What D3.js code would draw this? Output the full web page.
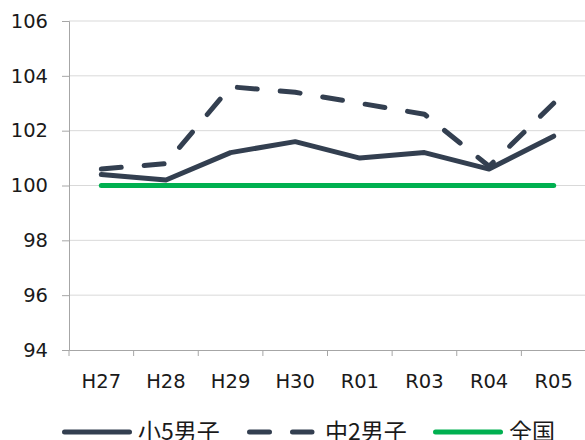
<!DOCTYPE html>
<html>
<head>
<meta charset="utf-8">
<script src="https://cdn.jsdelivr.net/npm/d3@7"></script>
<style>
  html, body { margin: 0; padding: 0; background: #fff; overflow: hidden; }
  svg { display: block; }
</style>
</head>
<body>
<svg id="chart" width="585" height="440"></svg>
<script>
const years = ['H27', 'H28', 'H29', 'H30', 'R01', 'R03', 'R04', 'R05'];
const shou5 = [100.4, 100.2, 101.2, 101.6, 101.0, 101.2, 100.6, 101.8];
const chu2 = [100.6, 100.8, 103.6, 103.4, 103.0, 102.6, 100.7, 103.0];
const zenkoku = [100, 100, 100, 100, 100, 100, 100, 100];
const yTicks = [94, 96, 98, 100, 102, 104, 106];

const series = [
  { name: '小5男子', values: shou5, color: '#333f50', dash: null },
  { name: '中2男子', values: chu2, color: '#333f50', dash: '20 23' },
  { name: '全国', values: zenkoku, color: '#00b050', dash: null }
];

const svg = d3.select('#chart');
const plotLeft = 69, plotRight = 586, plotTop = 21, plotBottom = 350;

const x = d3.scaleBand().domain(years).range([plotLeft, plotRight]);
const y = d3.scaleLinear().domain([94, 106]).range([plotBottom, plotTop]);

// gridlines
svg.append('g')
  .selectAll('line')
  .data(yTicks.filter(d => d !== 94))
  .enter()
  .append('line')
  .attr('x1', plotLeft).attr('x2', plotRight)
  .attr('y1', d => y(d)).attr('y2', d => y(d))
  .attr('stroke', '#d9d9d9')
  .attr('stroke-width', 1);

// y axis
const yAxis = svg.append('g')
  .attr('transform', `translate(${plotLeft},0)`)
  .call(d3.axisLeft(y).tickValues(yTicks).tickSize(7).tickPadding(14).tickFormat(d3.format('d')));
yAxis.select('.domain').attr('stroke', '#a6a6a6');
yAxis.selectAll('.tick line').attr('stroke', '#a6a6a6');
yAxis.selectAll('text')
  .attr('fill', '#1a1a1a')
  .style('font-family', '"DejaVu Sans", Verdana, sans-serif')
  .style('font-size', '19.5px');

// x axis
const xAxis = svg.append('g')
  .attr('transform', `translate(0,${plotBottom})`)
  .call(d3.axisBottom(x).tickSize(0).tickPadding(0));
xAxis.select('.domain').attr('stroke', '#a6a6a6');
xAxis.selectAll('.tick line').remove();
xAxis.selectAll('text')
  .attr('y', 31)
  .attr('dy', '0.35em')
  .attr('fill', '#1a1a1a')
  .style('font-family', '"DejaVu Sans", Verdana, sans-serif')
  .style('font-size', '19.5px');
// category boundary ticks
xAxis.selectAll('.bound')
  .data(years)
  .enter()
  .append('line')
  .attr('x1', d => x(d)).attr('x2', d => x(d))
  .attr('y1', 0).attr('y2', 6)
  .attr('stroke', '#a6a6a6');

// lines
const line = d3.line()
  .x((d, i) => x(years[i]) + x.bandwidth() / 2)
  .y(d => y(d));

svg.append('g')
  .selectAll('path')
  .data(series)
  .enter()
  .append('path')
  .attr('d', d => line(d.values))
  .attr('fill', 'none')
  .attr('stroke', d => d.color)
  .attr('stroke-width', 5)
  .attr('stroke-linecap', 'round')
  .attr('stroke-linejoin', 'round')
  .attr('stroke-dasharray', d => d.dash);

// legend (the reference clips it at the bottom edge)
const legendX = [62, 247, 433];
const legend = svg.append('g')
  .selectAll('g')
  .data(series)
  .enter()
  .append('g')
  .attr('transform', (d, i) => `translate(${legendX[i]},432)`);

legend.append('line')
  .attr('x1', 2.5).attr('x2', d => d.dash ? 65 : 67.5)
  .attr('y1', 0).attr('y2', 0)
  .attr('stroke', d => d.color)
  .attr('stroke-width', 5)
  .attr('stroke-linecap', 'round')
  .attr('stroke-dasharray', d => d.dash);

legend.append('text')
  .attr('x', (d, i) => i === 1 ? 78 : 76)
  .attr('y', 0)
  .attr('dy', '0.35em')
  .attr('fill', '#1a1a1a')
  .style('font-family', '"Noto Sans CJK JP", sans-serif')
  .style('font-size', '23px')
  .text(d => d.name);
</script>
</body>
</html>
